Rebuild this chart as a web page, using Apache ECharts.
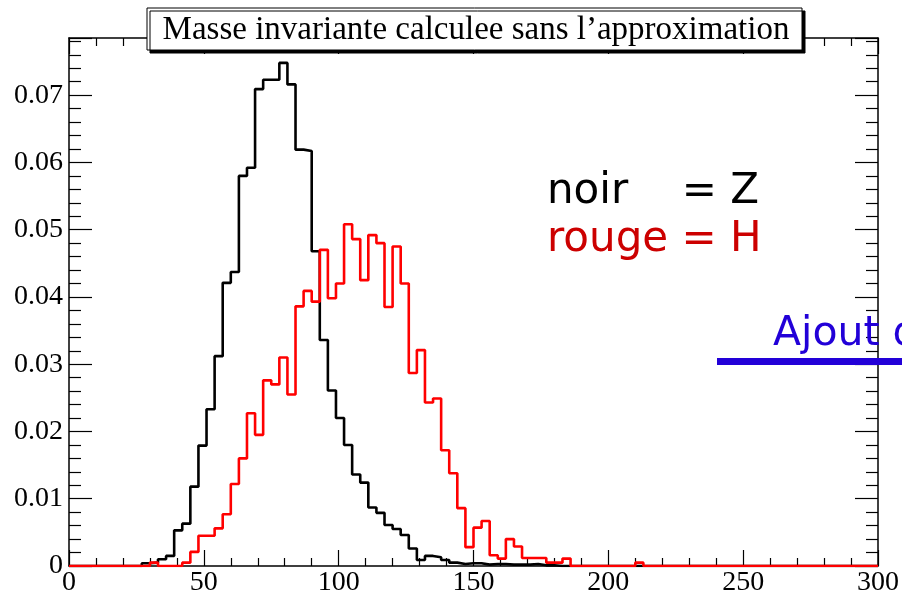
<!DOCTYPE html>
<html>
<head>
<meta charset="UTF-8">
<title>Masse invariante calculee sans l'approximation</title>
<script src="https://cdn.jsdelivr.net/npm/echarts@6/dist/echarts.min.js"></script>
<style>
    html, body { margin: 0; padding: 0; background: #fff; }
    #main { width: 902px; height: 597px; }
</style>
</head>
<body>
<div id="main"></div>
<script>
    // histogram: 100 bins of width 3 from 0 to 300
    var binWidth = 3;
    var xMin = 0, xMax = 300;
    var yMax = 0.0785;

    // noir = Z
    var zValues = [
        0, 0, 0, 0, 0, 0, 0, 0, 0, 0.0004,
        0.0005, 0.0010, 0.0015, 0.0053, 0.0063, 0.0118, 0.0179, 0.0233, 0.0312, 0.0421,
        0.0437, 0.0580, 0.0592, 0.0709, 0.0723, 0.0723, 0.0748, 0.0716, 0.0619, 0.0617,
        0.0468, 0.0336, 0.0261, 0.0220, 0.0180, 0.0136, 0.0124, 0.0087, 0.0079, 0.0061,
        0.0055, 0.0046, 0.0026, 0.0009, 0.0015, 0.0013, 0.0009, 0.0005, 0.0003, 0.0004,
        0.0004, 0.0002, 0.0003, 0.0003, 0.0002, 0.0002, 0.0002, 0.0003, 0.0001, 0.0001,
        0, 0, 0, 0, 0, 0, 0, 0, 0, 0,
        0, 0, 0, 0, 0, 0, 0, 0, 0, 0,
        0, 0, 0, 0, 0, 0, 0, 0, 0, 0,
        0, 0, 0, 0, 0, 0, 0, 0, 0, 0
    ];

    // rouge = H
    var hValues = [
        0, 0, 0, 0, 0, 0, 0, 0, 0, 0,
        0.0005, 0, 0, 0, 0.0005, 0.0021, 0.0045, 0.0045, 0.0056, 0.0077,
        0.0122, 0.0160, 0.0227, 0.0195, 0.0276, 0.0270, 0.0310, 0.0255, 0.0386, 0.0409,
        0.0393, 0.0470, 0.0398, 0.0420, 0.0508, 0.0486, 0.0425, 0.0492, 0.0480, 0.0385,
        0.0475, 0.0420, 0.0287, 0.0321, 0.0243, 0.0249, 0.0172, 0.0138, 0.0086, 0.0028,
        0.0057, 0.0067, 0.0016, 0.0011, 0.0040, 0.0029, 0.0012, 0.0012, 0.0012, 0.0005,
        0.0005, 0.0011, 0, 0, 0, 0, 0, 0, 0, 0,
        0.0005, 0, 0, 0, 0, 0, 0, 0, 0, 0,
        0, 0, 0, 0, 0, 0, 0, 0, 0, 0,
        0, 0, 0, 0, 0, 0, 0, 0, 0, 0
    ];

    var titleText = 'Masse invariante calculee sans l\u2019approximation';
    var noirText = 'noir    = Z';
    var rougeText = 'rouge = H';
    var ajoutText = 'Ajout de';

    // left edge of each bin, plus a closing point at the right edge
    function toSteps(values) {
        var pts = [];
        for (var i = 0; i < values.length; i++) {
            pts.push([xMin + i * binWidth, values[i]]);
        }
        pts.push([xMin + values.length * binWidth, values[values.length - 1]]);
        return pts;
    }

    var chart = echarts.init(document.getElementById('main'));
    var serif = 'Liberation Serif';
    var tickStyle = { color: '#000', width: 1.2 };

    function xAxisDef(pos, labels) {
        return {
            type: 'value', position: pos, min: xMin, max: xMax, interval: 50,
            axisLine: { show: true, onZero: false, lineStyle: { color: '#000', width: 1.5 } },
            axisTick: { show: true, inside: true, length: 16, lineStyle: tickStyle },
            minorTick: { show: true, splitNumber: 5, length: 8, lineStyle: tickStyle },
            splitLine: { show: false },
            axisLabel: { show: labels, color: '#000', fontFamily: serif, fontSize: 28, margin: 3 }
        };
    }
    function yAxisDef(pos, labels) {
        return {
            type: 'value', position: pos, min: 0, max: yMax, interval: 0.01,
            axisLine: { show: true, onZero: false, lineStyle: { color: '#000', width: 1.5 } },
            axisTick: { show: true, inside: true, length: 23, lineStyle: tickStyle },
            minorTick: { show: true, splitNumber: 5, length: 12, lineStyle: tickStyle },
            splitLine: { show: false },
            axisLabel: { show: labels, color: '#000', fontFamily: serif, fontSize: 28, margin: 6,
                         showMaxLabel: false }
        };
    }

    var option = {
        animation: false,
        backgroundColor: '#fff',
        grid: { left: 69, right: 21, top: 38, bottom: 31, containLabel: false },
        xAxis: [xAxisDef('bottom', true), xAxisDef('top', false)],
        yAxis: [yAxisDef('left', true), yAxisDef('right', false)],
        series: [
            {
                name: 'Z', type: 'line', step: 'end', symbol: 'none',
                xAxisIndex: 0, yAxisIndex: 0,
                lineStyle: { color: '#000', width: 2.6 },
                data: toSteps(zValues)
            },
            {
                name: 'H', type: 'line', step: 'end', symbol: 'none',
                xAxisIndex: 0, yAxisIndex: 0,
                lineStyle: { color: '#ff0000', width: 2.6 },
                data: toSteps(hValues)
            }
        ],
        graphic: [
            {
                type: 'rect', z: 100,
                shape: { x: 147, y: 8, width: 655, height: 42 },
                style: { fill: '#fff', stroke: '#000', lineWidth: 1,
                         shadowColor: '#000', shadowOffsetX: 3, shadowOffsetY: 3, shadowBlur: 0 }
            },
            {
                type: 'text', z: 101, x: 476, y: 30,
                style: { text: titleText, fill: '#000', font: '33px "Liberation Serif"',
                         align: 'center', verticalAlign: 'middle' }
            },
            {
                type: 'text', z: 101, x: 547, y: 192,
                style: { text: noirText, fill: '#000', font: '42px "DejaVu Sans"',
                         align: 'left', verticalAlign: 'middle' }
            },
            {
                type: 'text', z: 101, x: 547, y: 240,
                style: { text: rougeText, fill: '#cc0000', font: '42px "DejaVu Sans"',
                         align: 'left', verticalAlign: 'middle' }
            },
            {
                type: 'text', z: 101, x: 773, y: 334,
                style: { text: ajoutText, fill: '#2200d8', font: '41px "DejaVu Sans"',
                         align: 'left', verticalAlign: 'middle' }
            },
            {
                type: 'rect', z: 101,
                shape: { x: 717, y: 358, width: 200, height: 7 },
                style: { fill: '#2200d8' }
            }
        ]
    };
    chart.setOption(option);
</script>
</body>
</html>
